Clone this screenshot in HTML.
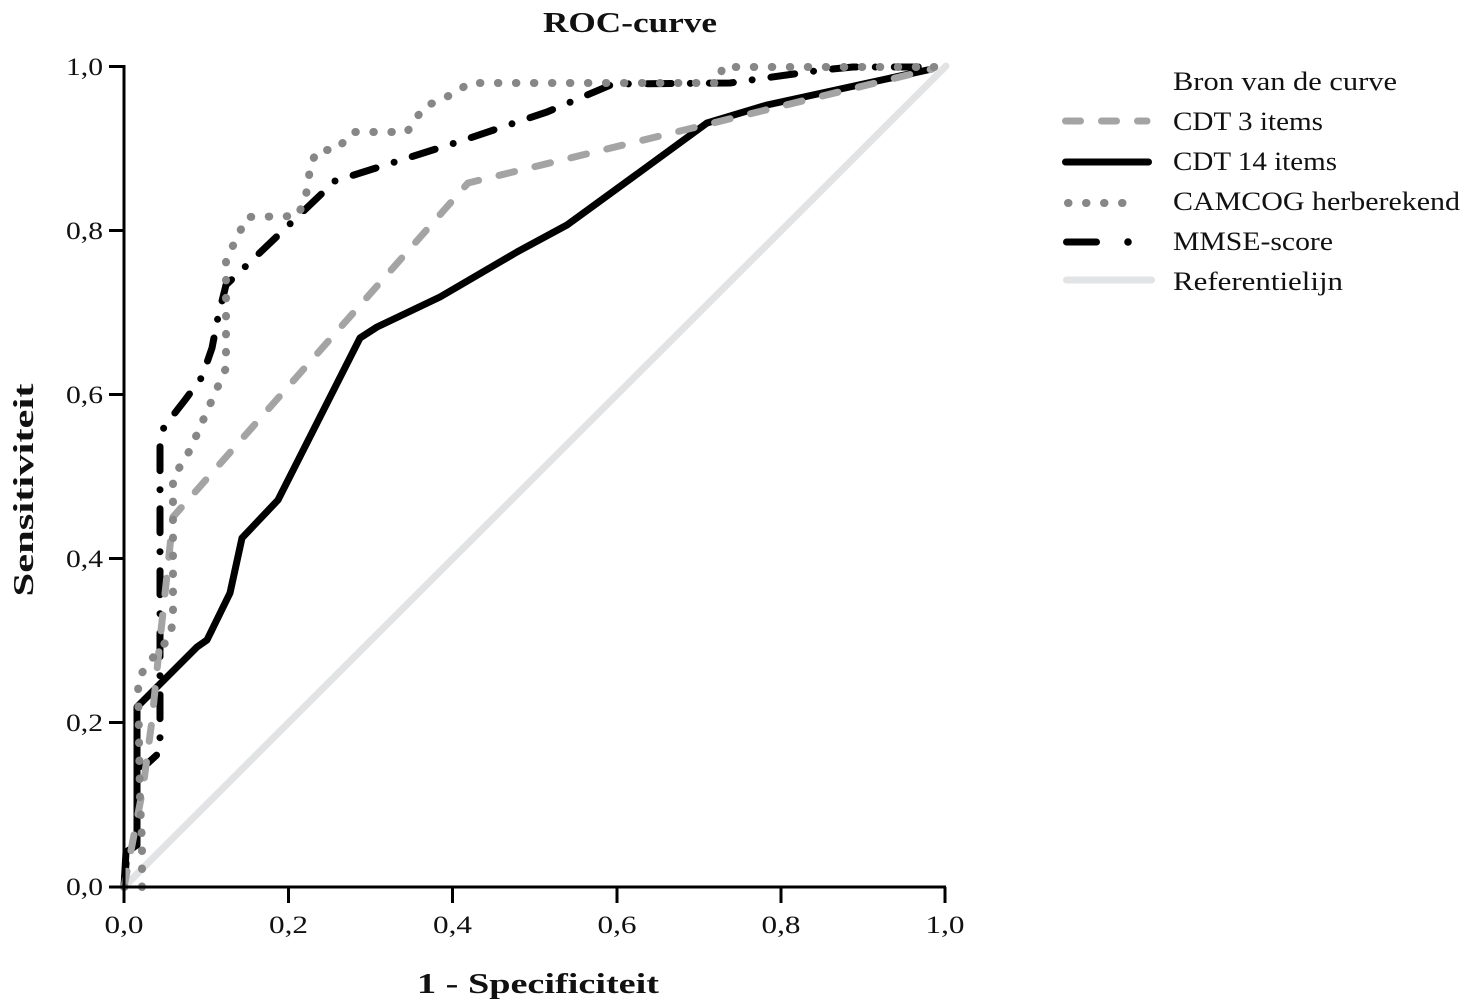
<!DOCTYPE html>
<html>
<head>
<meta charset="utf-8">
<style>
  html, body { margin: 0; padding: 0; background: #ffffff; }
  svg { display: block; }
  text { font-family: "Liberation Serif", "DejaVu Serif", serif; fill: #111; }
</style>
</head>
<body>
<svg width="1468" height="1004" viewBox="0 0 1468 1004" xmlns="http://www.w3.org/2000/svg">
  <rect x="0" y="0" width="1468" height="1004" fill="#ffffff"/>

  <!-- Title -->
  <text x="543" y="32" font-size="28" font-weight="bold" textLength="174" lengthAdjust="spacingAndGlyphs">ROC-curve</text>

  <!-- Y axis label -->
  <text transform="translate(33,490) rotate(-90)" text-anchor="middle" font-size="28" font-weight="bold" textLength="213" lengthAdjust="spacingAndGlyphs">Sensitiviteit</text>

  <!-- X axis label -->
  <text x="417" y="993" font-size="28" font-weight="bold" textLength="242" lengthAdjust="spacingAndGlyphs">1 - Specificiteit</text>

  <!-- Reference line -->
  <path d="M124,887 L946,66" fill="none" stroke="#e2e3e5" stroke-width="7" stroke-linecap="round"/>

  <!-- MMSE-score (dash-dot black) -->
  <path d="M124,887 L127,852 L137,845 L137,768 L148,763 L160,752 L160,440 L164,427 L185,400 L202,377 L212,348 L218,317 L226,285 L335,181 L458,142 L547,112 L613,84 L730,83 L822,70 L853,67 L932,67"
        fill="none" stroke="#000" stroke-width="7" stroke-linecap="round" stroke-linejoin="round" stroke-dasharray="24 19 0 19"/>

  <!-- CDT 14 items (solid black) -->
  <path d="M124,887 L126,852 L137,845 L137,707 L197,647 L207,640 L230,593 L242,538 L278,500 L360,338 L377,327 L440,297 L517,252 L567,225 L633,177 L707,123 L767,105 L932,69"
        fill="none" stroke="#000" stroke-width="7" stroke-linecap="round" stroke-linejoin="round"/>

  <!-- CDT 3 items (light gray dashed) -->
  <path d="M124,887 L143,788 L152,720 L160,640 L167,575 L173,517 L468,183 L713,123 L932,69"
        fill="none" stroke="#a4a4a4" stroke-width="7" stroke-linecap="round" stroke-linejoin="round" stroke-dasharray="16 21"/>

  <!-- CAMCOG herberekend (gray dotted) -->
  <path d="M124,887 L142,887 L142,842 L140,800 L138,680 L146,666 L170,637 L173,620 L173,478 L190,450 L226,368 L226,260 L247,217 L298,216 L306,195 L311,163 L318,150 L336,150 L353,132 L407,132 L424,107 L455,93 L469,83 L720,83 L722,67 L935,67"
        fill="none" stroke="#878787" stroke-width="8" stroke-linecap="round" stroke-linejoin="round" stroke-dasharray="0.5 17.5"/>

  <!-- Axes -->
  <g stroke="#000" stroke-width="3" fill="none">
    <line x1="124" y1="65" x2="124" y2="903"/>
    <line x1="109" y1="887" x2="946" y2="887"/>
    <!-- y ticks -->
    <line x1="109" y1="66.5" x2="124" y2="66.5"/>
    <line x1="109" y1="230.5" x2="124" y2="230.5"/>
    <line x1="109" y1="394.5" x2="124" y2="394.5"/>
    <line x1="109" y1="558.5" x2="124" y2="558.5"/>
    <line x1="109" y1="722.5" x2="124" y2="722.5"/>
    <!-- x ticks -->
    <line x1="288.5" y1="887" x2="288.5" y2="903"/>
    <line x1="452.5" y1="887" x2="452.5" y2="903"/>
    <line x1="617" y1="887" x2="617" y2="903"/>
    <line x1="781" y1="887" x2="781" y2="903"/>
    <line x1="945" y1="887" x2="945" y2="903"/>
  </g>

  <!-- Y tick labels -->
  <g font-size="25" text-anchor="end">
    <text x="103" y="75" textLength="37" lengthAdjust="spacingAndGlyphs">1,0</text>
    <text x="103" y="239" textLength="37" lengthAdjust="spacingAndGlyphs">0,8</text>
    <text x="103" y="403" textLength="37" lengthAdjust="spacingAndGlyphs">0,6</text>
    <text x="103" y="567" textLength="37" lengthAdjust="spacingAndGlyphs">0,4</text>
    <text x="103" y="731" textLength="37" lengthAdjust="spacingAndGlyphs">0,2</text>
    <text x="103" y="895" textLength="37" lengthAdjust="spacingAndGlyphs">0,0</text>
  </g>

  <!-- X tick labels -->
  <g font-size="25" text-anchor="middle">
    <text x="124" y="933" textLength="39" lengthAdjust="spacingAndGlyphs">0,0</text>
    <text x="288.5" y="933" textLength="39" lengthAdjust="spacingAndGlyphs">0,2</text>
    <text x="452.5" y="933" textLength="39" lengthAdjust="spacingAndGlyphs">0,4</text>
    <text x="617" y="933" textLength="39" lengthAdjust="spacingAndGlyphs">0,6</text>
    <text x="781" y="933" textLength="39" lengthAdjust="spacingAndGlyphs">0,8</text>
    <text x="945" y="933" textLength="39" lengthAdjust="spacingAndGlyphs">1,0</text>
  </g>

  <!-- Legend -->
  <g font-size="26">
    <text x="1173" y="90" textLength="224" lengthAdjust="spacingAndGlyphs">Bron van de curve</text>
    <text x="1173" y="130" textLength="150" lengthAdjust="spacingAndGlyphs">CDT 3 items</text>
    <text x="1173" y="170" textLength="164" lengthAdjust="spacingAndGlyphs">CDT 14 items</text>
    <text x="1173" y="210" textLength="287" lengthAdjust="spacingAndGlyphs">CAMCOG herberekend</text>
    <text x="1173" y="250" textLength="160" lengthAdjust="spacingAndGlyphs">MMSE-score</text>
    <text x="1173" y="290" textLength="170" lengthAdjust="spacingAndGlyphs">Referentielijn</text>
  </g>
  <path d="M1065.5,121 L1147,121" stroke="#a4a4a4" stroke-width="7" stroke-linecap="round" stroke-dasharray="15 21" fill="none"/>
  <path d="M1065.5,162 L1148.5,162" stroke="#000" stroke-width="7" stroke-linecap="round" fill="none"/>
  <path d="M1068,203 L1140,203" stroke="#878787" stroke-width="8" stroke-linecap="round" stroke-dasharray="0.5 17.5" fill="none"/>
  <path d="M1066.5,242 L1096.5,242" stroke="#000" stroke-width="7" stroke-linecap="round" fill="none"/>
  <circle cx="1128" cy="242" r="3.8" fill="#000"/>
  <path d="M1066.5,280 L1151.5,280" stroke="#e2e3e5" stroke-width="7" stroke-linecap="round" fill="none"/>
</svg>
</body>
</html>
